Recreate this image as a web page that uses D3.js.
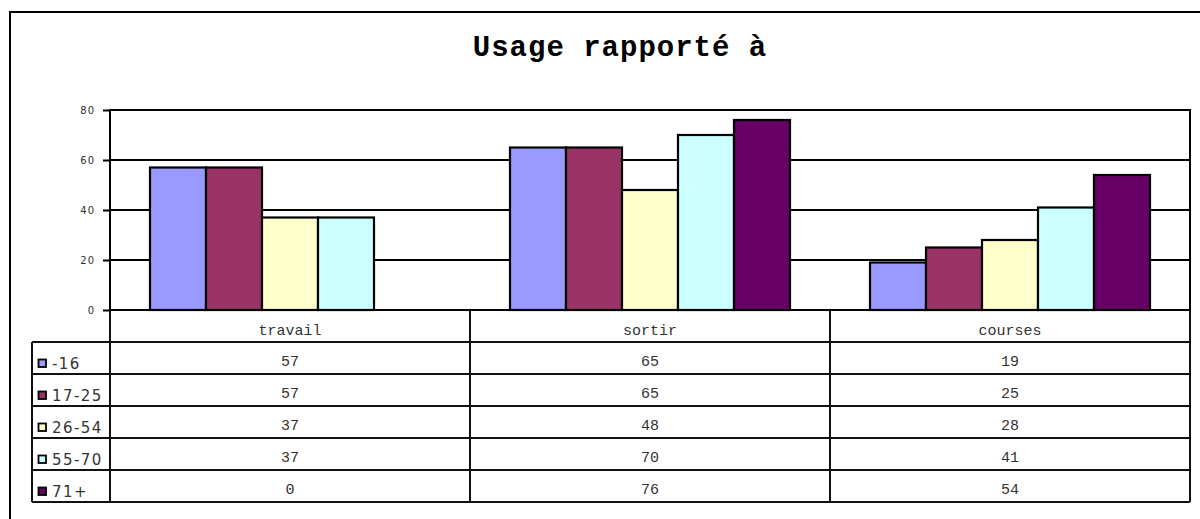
<!DOCTYPE html>
<html>
<head>
<meta charset="utf-8">
<script src="https://cdn.jsdelivr.net/npm/d3@7"></script>
<style>
    body { margin: 0; background: #fff; }
    svg { display: block; }
</style>
</head>
<body>
<svg id="chart" width="1200" height="519"></svg>
<script>
    var categories = ["travail", "sortir", "courses"];
    var seriesNames = ["-16", "17-25", "26-54", "55-70", "71+"];
    var seriesColors = ["#9999ff", "#993366", "#ffffcc", "#ccffff", "#660066"];
    var values = [
        [57, 65, 19],
        [57, 65, 25],
        [37, 48, 28],
        [37, 70, 41],
        [0, 76, 54]
    ];
    var yTicks = [0, 20, 40, 60, 80];

    (function() {
        var svg = d3.select("#chart");
        var pl = 110, pr = 1190, pt = 110, pb = 310;
        var rowH = 32, legendLeft = 32;

        // outer frame, runs off the picture at right and bottom
        svg.append("rect").attr("x", 10).attr("y", 12).attr("width", 1200).attr("height", 520)
            .attr("fill", "#fff").attr("stroke", "#000").attr("stroke-width", 2);

        svg.append("text").attr("x", 620).attr("y", 56).attr("text-anchor", "middle")
            .attr("font-family", "'Liberation Mono', monospace").attr("font-weight", "bold")
            .attr("font-size", 29).attr("letter-spacing", 1).attr("fill", "#000").text("Usage rapporté à");

        var x = d3.scaleBand().domain(categories).range([pl, pr]);
        var xs = d3.scaleBand().domain(d3.range(seriesNames.length)).range([40, 320]);
        var y = d3.scaleLinear().domain([0, 80]).range([pb, pt]);

        // gridlines
        svg.append("g").selectAll("line").data(yTicks.slice(1)).join("line")
            .attr("x1", pl).attr("x2", pr)
            .attr("y1", function(d) { return y(d); }).attr("y2", function(d) { return y(d); })
            .attr("stroke", "#000").attr("stroke-width", 2);

        var yAxis = svg.append("g").attr("transform", "translate(" + pl + ",0)")
            .call(d3.axisLeft(y).tickValues(yTicks).tickSize(7).tickPadding(8));
        yAxis.select(".domain").remove();
        yAxis.selectAll(".tick line").attr("stroke", "#000").attr("stroke-width", 2);
        yAxis.selectAll(".tick text").attr("font-family", "'DejaVu Sans', sans-serif")
            .attr("font-size", 10).attr("letter-spacing", 1).attr("fill", "#333");

        // bars
        var groups = svg.append("g").selectAll("g").data(seriesNames).join("g")
            .attr("fill", function(d, i) { return seriesColors[i]; });
        groups.selectAll("rect").data(function(d, i) {
                return categories.map(function(c, j) { return { c: c, s: i, v: values[i][j] }; });
            }).join("rect")
            .attr("x", function(d) { return x(d.c) + xs(d.s); })
            .attr("y", function(d) { return y(d.v); })
            .attr("width", xs.bandwidth())
            .attr("height", function(d) { return pb - y(d.v); })
            .attr("stroke", "#000").attr("stroke-width", 2.2)
            .attr("display", function(d) { return d.v > 0 ? null : "none"; });

        // plot frame
        svg.append("rect").attr("x", pl).attr("y", pt).attr("width", pr - pl).attr("height", pb - pt)
            .attr("fill", "none").attr("stroke", "#000").attr("stroke-width", 2);

        // data table
        var table = svg.append("g").attr("stroke", "#111").attr("stroke-width", 2);
        var tBottom = pb + rowH * (seriesNames.length + 1);
        table.append("line").attr("x1", pl).attr("x2", pl).attr("y1", pb).attr("y2", tBottom);
        table.append("line").attr("x1", pr).attr("x2", pr).attr("y1", pb).attr("y2", tBottom);
        table.append("line").attr("x1", legendLeft).attr("x2", legendLeft).attr("y1", pb + rowH).attr("y2", tBottom);
        table.selectAll(".sep").data(categories.slice(1)).join("line").attr("class", "sep")
            .attr("x1", function(d) { return x(d); }).attr("x2", function(d) { return x(d); })
            .attr("y1", pb).attr("y2", tBottom);
        table.selectAll(".row").data(d3.range(1, seriesNames.length + 2)).join("line").attr("class", "row")
            .attr("x1", legendLeft).attr("x2", pr)
            .attr("y1", function(d) { return pb + rowH * d; }).attr("y2", function(d) { return pb + rowH * d; });

        var mono = "'Liberation Mono', 'Courier New', monospace";
        svg.append("g").selectAll("text").data(categories).join("text")
            .attr("x", function(d) { return x(d) + x.bandwidth() / 2; })
            .attr("y", pb + rowH - 7.5)
            .attr("text-anchor", "middle").attr("font-family", mono).attr("font-size", 15).attr("fill", "#333")
            .text(function(d) { return d; });

        var rows = svg.append("g").selectAll("g").data(seriesNames).join("g")
            .attr("transform", function(d, i) { return "translate(0," + (pb + rowH * (i + 2)) + ")"; });
        rows.selectAll("text.val").data(function(d, i) { return values[i]; }).join("text").attr("class", "val")
            .attr("x", function(d, j) { return x(categories[j]) + x.bandwidth() / 2; })
            .attr("y", -8)
            .attr("text-anchor", "middle").attr("font-family", mono).attr("font-size", 15).attr("fill", "#333")
            .text(function(d) { return d; });
        rows.append("rect").attr("x", 38.5).attr("y", -14.5).attr("width", 7.5).attr("height", 7.5)
            .attr("fill", function(d, i) { return seriesColors[i]; })
            .attr("stroke", "#000").attr("stroke-width", 1.8);
        rows.append("text").attr("x", 52).attr("y", -5.5)
            .attr("font-family", "'DejaVu Sans', sans-serif").attr("font-size", 15).attr("letter-spacing", 1.4)
            .attr("fill", "#333").text(function(d) { return d; });
    })();
</script>
</body>
</html>
